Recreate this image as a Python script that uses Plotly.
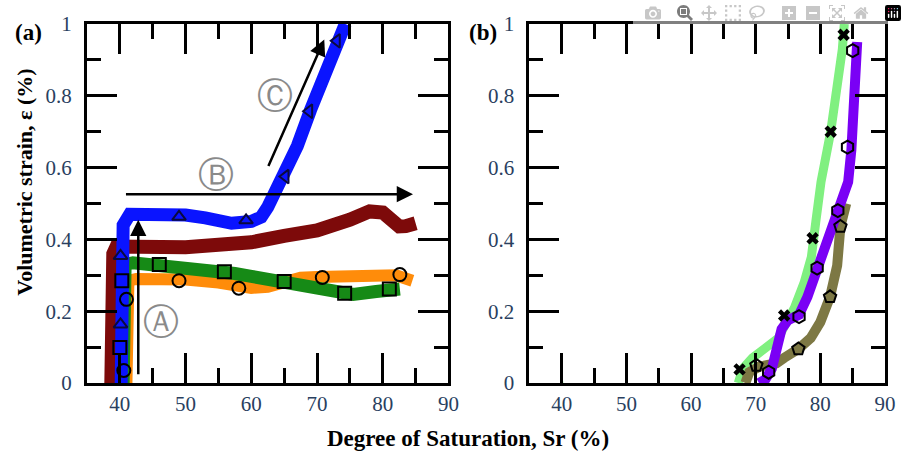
import plotly.graph_objects as go

# ---------------- Panel (a) data ----------------
orange_x = [41.0, 41.1, 41.3, 42.5, 45, 50, 55, 57.5, 60, 62.5, 65, 67.5, 70, 75, 79, 82, 84.5]
orange_y = [0.0, 0.2, 0.285, 0.29, 0.292, 0.288, 0.28, 0.272, 0.265, 0.268, 0.283, 0.293, 0.295, 0.297, 0.302, 0.3, 0.285]
green_x = [40.5, 40.6, 40.8, 42, 45, 50, 55, 57.5, 60, 63, 67.5, 70, 72.5, 75.5, 79, 82.6]
green_y = [0.0, 0.2, 0.33, 0.335, 0.33, 0.324, 0.315, 0.305, 0.297, 0.286, 0.272, 0.262, 0.25, 0.247, 0.255, 0.262]
red_x = [38.7, 38.8, 39.0, 39.5, 42, 45, 50, 55, 60, 65, 70, 75, 78, 80, 81.5, 82.5, 83.5, 85]
red_y = [0.0, 0.2, 0.36, 0.38, 0.38, 0.375, 0.378, 0.385, 0.392, 0.41, 0.425, 0.455, 0.478, 0.475, 0.455, 0.436, 0.437, 0.445]
blue_x = [40.2, 40.2, 40.3, 40.5, 41.5, 45, 50, 53, 57, 60, 61.5, 62.5, 63.5, 65, 67, 69, 71, 73, 74.3]
blue_y = [0.0, 0.1, 0.3, 0.44, 0.47, 0.47, 0.468, 0.46, 0.445, 0.45, 0.462, 0.49, 0.53, 0.575, 0.66, 0.76, 0.85, 0.95, 1.0]

tri_x = [40.1, 40.1, 49.0, 59.2]
tri_y = [0.163, 0.354, 0.463, 0.453]
tril_x = [65.2, 68.8, 73.0]
tril_y = [0.575, 0.757, 0.953]
sq_x = [40.0, 40.3, 46.0, 55.9, 65.0, 74.2, 81.0]
sq_y = [0.099, 0.285, 0.33, 0.31, 0.283, 0.25, 0.262]
circ_x = [40.6, 41.0, 49.0, 58.1, 70.8, 82.6]
circ_y = [0.035, 0.233, 0.285, 0.264, 0.294, 0.302]

# ---------------- Panel (b) data ----------------
lgreen_x = [67.3, 68, 69.5, 72, 73.5, 74.5, 76, 77.5, 78.6, 79.3, 80.1, 81.6, 82.8, 83.4, 83.7]
lgreen_y = [0.0, 0.04, 0.07, 0.1, 0.125, 0.16, 0.21, 0.28, 0.35, 0.45, 0.56, 0.70, 0.834, 0.93, 1.0]
olive_x = [68.4, 69.0, 70.5, 72.0, 73.2, 74.4, 76.6, 78.5, 80.0, 81.5, 82.6, 83.1, 83.6, 84.0]
olive_y = [0.0, 0.03, 0.045, 0.05, 0.055, 0.07, 0.095, 0.125, 0.17, 0.24, 0.327, 0.436, 0.48, 0.5]
purple_x = [70.5, 71.5, 72.5, 73.3, 74, 75, 76.7, 78, 79.5, 81, 82.5, 83.5, 84.3, 84.8, 85.1, 85.5, 85.7]
purple_y = [0.0, 0.01, 0.04, 0.09, 0.15, 0.175, 0.19, 0.24, 0.32, 0.39, 0.47, 0.52, 0.56, 0.65, 0.75, 0.87, 0.95]

cross_x = [67.5, 74.4, 78.8, 81.6, 83.6]
cross_y = [0.038, 0.188, 0.403, 0.70, 0.97]
hex_x = [72.0, 76.7, 79.5, 82.7, 84.2, 85.0]
hex_y = [0.03, 0.185, 0.32, 0.48, 0.657, 0.926]
pent_x = [70.1, 76.6, 81.5, 83.1]
pent_y = [0.049, 0.095, 0.24, 0.436]
dot_x = [40.0]
dot_y = [0.0]

# arrows (tail x, tail y, head x, head y) and circled stage labels
arrows = [(42.8, 0.02, 42.8, 0.455), (40.7, 0.526, 84.6, 0.526), (62.5, 0.6, 71.1, 0.957)]
stage_labels = ["Ⓐ", "Ⓑ", "Ⓒ"]
stage_x = [46.3, 54.7, 63.6]
stage_y = [0.172, 0.58, 0.80]

SERIF = "Liberation Serif"

fig = go.Figure()


def band(x, y, color, width, axes):
    xa, ya = axes
    fig.add_trace(go.Scatter(x=x, y=y, mode="lines", line=dict(color=color, width=width),
                             xaxis=xa, yaxis=ya, showlegend=False, hoverinfo="skip"))


def pts(x, y, symbol, size, axes, color="#000000", lw=2):
    xa, ya = axes
    fig.add_trace(go.Scatter(x=x, y=y, mode="markers",
                             marker=dict(symbol=symbol, size=size, color=color,
                                         line=dict(color=color, width=lw)),
                             xaxis=xa, yaxis=ya, showlegend=False))


A = ("x", "y")
B = ("x2", "y2")
band(orange_x, orange_y, "#ff8c0a", 12, A)
band(green_x, green_y, "#168a16", 13, A)
band(red_x, red_y, "#7d0a0a", 14, A)
band(blue_x, blue_y, "#0a14ff", 13, A)
pts(tri_x, tri_y, "triangle-up-open", 12, A, "#0a0a40")
pts(tril_x, tril_y, "triangle-left-open", 12, A, "#0a0a40")
pts(sq_x, sq_y, "square-open", 13, A)
pts(circ_x, circ_y, "circle-open", 13, A)

band(lgreen_x, lgreen_y, "#80f080", 9, B)
band(olive_x, olive_y, "#7d7844", 10, B)
band(purple_x, purple_y, "#7a00f5", 10, B)
pts(cross_x, cross_y, "x", 11, B, "#000000", 0)
pts(hex_x, hex_y, "hexagon-open", 13, B)
pts(pent_x, pent_y, "pentagon-open", 13, B)
pts(dot_x, dot_y, "square", 3, B, "#80f080", 0)

for (x0, y0, x1, y1) in arrows:
    fig.add_annotation(x=x1, y=y1, ax=x0, ay=y0, xref="x", yref="y", axref="x", ayref="y",
                       showarrow=True, arrowhead=2, arrowsize=1.3, arrowwidth=2.5,
                       arrowcolor="#000000", text="")
for t, x, y in zip(stage_labels, stage_x, stage_y):
    fig.add_annotation(x=x, y=y, xref="x", yref="y", text=t, showarrow=False,
                       font=dict(family="DejaVu Sans", size=36, color="#8a8a8a"))

base = dict(showline=True, linewidth=3, linecolor="#000", mirror="ticks", ticks="inside",
            ticklen=30, tickwidth=3, tickcolor="#000", showgrid=False, zeroline=False)
fig.update_layout(
    width=907, height=457,
    margin=dict(l=87, r=12, t=16, b=74),
    paper_bgcolor="white", plot_bgcolor="white",
    font=dict(family=SERIF, size=21),
    xaxis=dict(domain=[0, 0.453], anchor="y", range=[35, 90], tick0=40, dtick=10,
               minor=dict(ticks="inside", ticklen=15, tickwidth=3, tickcolor="#000", dtick=5), **base),
    yaxis=dict(domain=[0, 1], anchor="x", range=[0, 1], dtick=0.2, ticklabelstandoff=8,
               minor=dict(ticks="inside", ticklen=14, tickwidth=3, tickcolor="#000", dtick=0.1), **base),
    xaxis2=dict(domain=[0.5545, 1], anchor="y2", range=[35, 90], tick0=40, dtick=10,
                minor=dict(ticks="inside", ticklen=15, tickwidth=3, tickcolor="#000", dtick=5), **base),
    yaxis2=dict(domain=[0, 1], anchor="x2", range=[0, 1], dtick=0.2, ticklabelstandoff=8,
                minor=dict(ticks="inside", ticklen=14, tickwidth=3, tickcolor="#000", dtick=0.1), **base),
)

fig.add_annotation(x=-0.0928, y=0.975, xref="paper", yref="paper", xanchor="left", yanchor="middle",
                   text="<b>(a)</b>", showarrow=False, font=dict(family=SERIF, size=23, color="#000"))
fig.add_annotation(x=0.4765, y=0.975, xref="paper", yref="paper", xanchor="left", yanchor="middle",
                   text="<b>(b)</b>", showarrow=False, font=dict(family=SERIF, size=23, color="#000"))
fig.add_annotation(x=0.478, y=-0.155, xref="paper", yref="paper", xanchor="center",
                   yanchor="middle", text="<b>Degree of Saturation, Sr (%)</b>", showarrow=False,
                   font=dict(family=SERIF, size=23, color="#000"))
fig.add_annotation(x=-0.078, y=0.56, xref="paper", yref="paper", xanchor="center",
                   yanchor="middle", textangle=-90, text="<b>Volumetric strain, ε (%)</b>",
                   showarrow=False, font=dict(family=SERIF, size=22, color="#000"))

# remove the default 8px page margin so the figure fills the 907x457 window exactly
fig.write_html("out.html", post_script="document.body.style.margin='0px';")
